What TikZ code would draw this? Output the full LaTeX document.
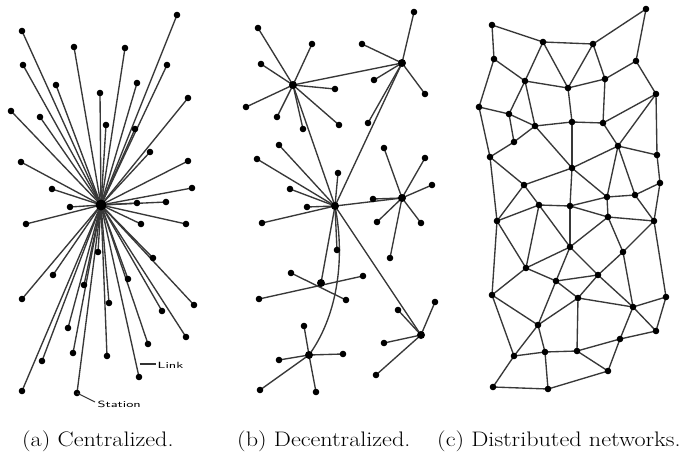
\documentclass[tikz,border=0pt]{standalone}
\usetikzlibrary{backgrounds}
\begin{document}
\begin{tikzpicture}[x=1pt,y=-1pt,
  dot/.style={circle,fill=black,inner sep=0pt,minimum size=6.6pt},
  hubdot/.style={circle,fill=black,inner sep=0pt,minimum size=8pt},
  bighub/.style={circle,fill=black,inner sep=0pt,minimum size=11pt},
  link/.style={draw=black!78,line width=1.35pt},
  ptr/.style={draw=black!80,line width=1.1pt},
  lbl/.style={inner sep=0pt,font=\fontsize{9}{9}\selectfont\sffamily},
  captext/.style={inner sep=0pt,anchor=base west,font=\fontsize{21}{21}\selectfont}]
\useasboundingbox (0,0) rectangle (686,458);
\begin{scope}[on background layer]
\fill[white] (0,0) rectangle (686,458);
\end{scope}

% ---------------- (a) centralized ----------------
\node[bighub] (ah) at (101,205) {};
\foreach \n/\x/\y in {1/22/31,2/177/15,3/74/47,4/125/48,5/23/65,6/167/65,7/56/85,8/137/83,
  9/100/93,10/188/98,11/11/111,12/40/117,13/106/125,14/135/129,15/150/152,16/21/162,
  17/188/161,18/52/189,19/192/188,20/137/203,21/166/202,22/70/207,23/26/224,24/141/224,
  25/186/224,26/98/252,27/153/258,28/53/275,29/128/279,30/84/285,31/22/299,32/109/303,
  33/194/305,34/162/311,35/68/328,36/186/337,37/148/344,38/73/353,39/107/356,40/42/361,
  41/139/377,42/22/391,43/77/393}{
  \node[dot] (a\n) at (\x,\y) {};
}
\begin{scope}[on background layer]
\foreach \n in {1,...,43}{ \draw[link] (ah.center) -- (a\n.center); }
\end{scope}
\coordinate (lk1) at (139.5,364);
\coordinate (lk2) at (156,364);
\draw[ptr] (lk1) -- (lk2);
\node[lbl,anchor=west] (lklbl) at (157.5,365) {\scalebox{1.55}[1]{Link}};
\coordinate (st2) at (95,402);
\draw[ptr] (a43.center) -- (st2);
\node[lbl,anchor=west] (stlbl) at (97.5,404.5) {\scalebox{1.55}[1]{Station}};

% ---------------- (b) decentralized ----------------
\node[hubdot] (bA) at (293,85) {};
\node[hubdot] (bB) at (402,63) {};
\node[hubdot] (bC) at (335,206) {};
\node[hubdot] (bD) at (402,198) {};
\node[hubdot] (bE) at (321,283) {};
\node[hubdot] (bF) at (421,335) {};
\node[hubdot] (bG) at (309,355) {};
\foreach \n/\x/\y in {1/258/28,2/312/44,3/261/64,4/335/89,5/246/107,6/277/117,7/303/129,8/339/125}{
  \node[dot] (bA\n) at (\x,\y) {}; }
\foreach \n/\x/\y in {1/414/12,2/362/44,3/374/80,4/425/94,5/368/123}{
  \node[dot] (bB\n) at (\x,\y) {}; }
\foreach \n/\x/\y in {1/279/145,2/257/159,3/338/173,4/290/189,5/307/207,6/262/223,7/337/250}{
  \node[dot] (bC\n) at (\x,\y) {}; }
\foreach \n/\x/\y in {1/384/148,2/425/158,3/432/185,4/373/199,5/377/222,6/421/223,7/390/258}{
  \node[dot] (bD\n) at (\x,\y) {}; }
\foreach \n/\x/\y in {1/291/273,2/346/300,3/259/299,4/363/276}{
  \node[dot] (bE\n) at (\x,\y) {}; }
\foreach \n/\x/\y in {1/435/302,2/398/310,3/384/343,4/376/375}{
  \node[dot] (bF\n) at (\x,\y) {}; }
\foreach \n/\x/\y in {1/304/326,2/279/360,3/343/354,4/260/390,5/316/392}{
  \node[dot] (bG\n) at (\x,\y) {}; }
\begin{scope}[on background layer]
\foreach \n in {1,...,8}{ \draw[link] (bA.center) -- (bA\n.center); }
\foreach \n in {1,...,5}{ \draw[link] (bB.center) -- (bB\n.center); }
\foreach \n in {1,...,7}{ \draw[link] (bC.center) -- (bC\n.center); }
\foreach \n in {1,...,7}{ \draw[link] (bD.center) -- (bD\n.center); }
\foreach \n in {1,...,4}{ \draw[link] (bF.center) -- (bF\n.center); }
\foreach \n in {1,...,5}{ \draw[link] (bG.center) -- (bG\n.center); }
\draw[link] (bE1.center) -- (bE2.center);
\draw[link] (bE3.center) -- (bE4.center);
\draw[link] (bA.center) -- (bB.center);
\draw[link] (bA.center) -- (bC.center);
\draw[link] (bB.center) -- (bC.center);
\draw[link] (bC.center) -- (bD.center);
\draw[link] (bC.center) -- (bE.center);
\draw[link] (bC.center) -- (bF.center);
\draw[link] (bC.center) .. controls (346,262) and (336,318) .. (bG.center);
\end{scope}

% ---------------- (c) distributed ----------------
\foreach \n/\x/\y in {1/492/25,2/646/9,3/543/42,4/593/44,5/494/59,6/636/61,7/525/81,8/568/88,
  9/605/79,10/656/94,11/479/107,12/509/114,13/535/126,14/572/122,15/603/123,16/514/142,
  17/618/146,18/490/157,19/657/155,20/572/168,21/660/183,22/524/185,23/607/197,24/635/195,
  25/539/205,26/570/206}{
  \node[dot] (n\n) at (\x,\y) {}; }
\foreach \n/\x/\y in {1/608/217,2/654/221,3/497/221,4/570/247,5/623/252,6/526/268,7/598/275,
  8/556/281,9/492/295,10/578/298,11/666/297,12/633/307,13/538/325,14/656/331,15/620/339,
  16/514/356,17/545/352,18/577/351,19/608/371,20/493/387,21/548/389}{
  \node[dot] (p\n) at (\x,\y) {}; }
\begin{scope}[on background layer]
\foreach \a/\b in {n1/n3,n3/n4,n4/n2,n2/n6,n1/n5,n5/n7,n3/n7,n3/n8,n4/n8,n4/n9,n6/n9,n7/n8,
  n8/n9,n6/n10,n5/n11,n7/n12,n11/n12,n12/n13,n7/n13,n8/n14,n13/n14,n14/n15,n9/n15,n15/n10,
  n10/n17,n10/n19,n11/n18,n12/n16,n13/n16,n16/n18,n13/n20,n14/n20,n15/n17,n17/n19,n17/n20,
  n17/n23,n17/n24,n19/n21,n18/n22,n20/n22,n20/n26,n20/n23,n22/n25,n25/n26,n26/n23,n23/n24,
  n24/n21,n18/p3,n22/p3,n25/p3,n23/p1,n26/p1,p1/p2,n24/p2,n21/p2,n25/p6,n25/p4,n26/p4,p1/p4,
  p1/p5,p2/p5,p5/p7,p3/p6,p3/p9,p4/p6,p4/p8,p4/p7,p6/p8,p8/p7,p6/p9,p8/p10,p7/p10,p5/p12,
  p7/p12,p10/p12,p12/p11,p2/p11,p11/p14,p12/p14,p12/p15,p14/p15,p10/p13,p8/p13,p9/p13,
  p9/p16,p13/p16,p13/p17,p10/p18,p16/p17,p17/p18,p18/p15,p18/p19,p15/p19,p16/p20,p17/p21,
  p20/p21,p21/p19}{
  \draw[link] (\a.center) -- (\b.center); }
\end{scope}

% ---------------- captions ----------------
\node[captext] (capa) at (22,446) {\scalebox{1.15}[1]{(a) Centralized.}};
\node[captext] (capb) at (237,446) {\scalebox{1.15}[1]{(b) Decentralized.}};
\node[captext] (capc) at (437,446) {\scalebox{1.15}[1]{(c) Distributed networks.}};
\end{tikzpicture}
\end{document}
